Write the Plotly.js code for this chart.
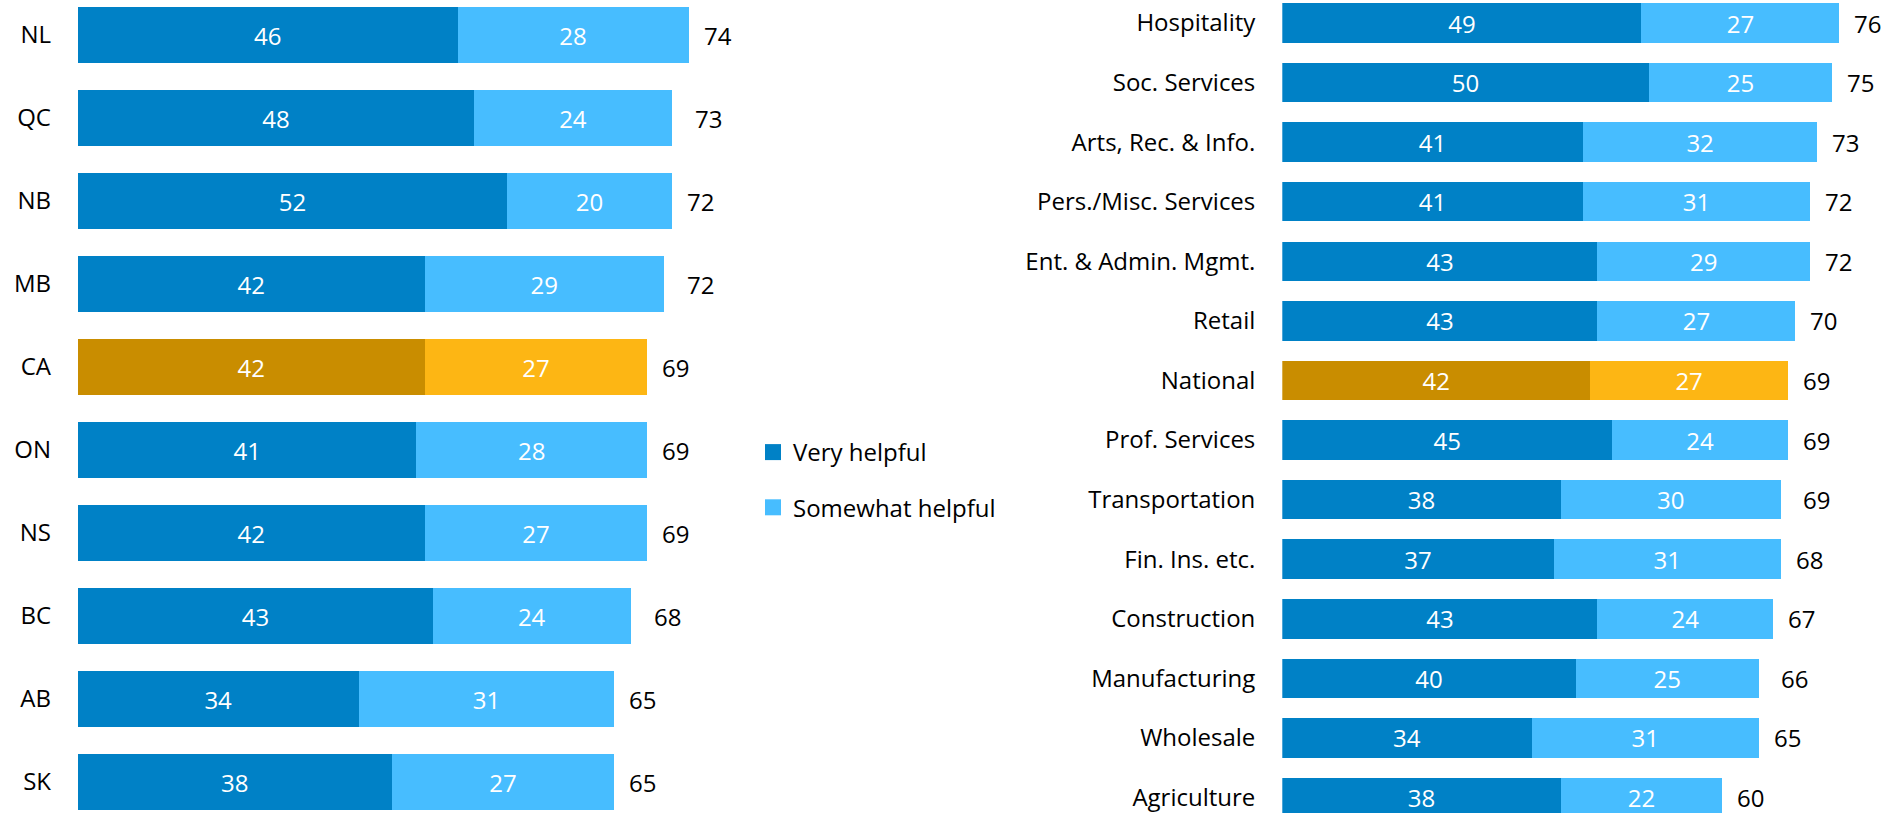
<!DOCTYPE html>
<html>
<head>
<meta charset="utf-8">
<script src="https://cdn.plot.ly/plotly-3.0.1.min.js"></script>
<style>html,body{margin:0;padding:0;background:#fff;}#chart{width:1896px;height:813px;}</style>
</head>
<body>
<div id="chart"></div>
<script>
// Provinces (left panel)
const provinces = ["NL","QC","NB","MB","CA","ON","NS","BC","AB","SK"];
const provVery = [46,48,52,42,42,41,42,43,34,38];
const provSome = [28,24,20,29,27,28,27,24,31,27];
const provTotal = [74,73,72,72,69,69,69,68,65,65];

// Sectors (right panel)
const sectors = ["Hospitality","Soc. Services","Arts, Rec. & Info.","Pers./Misc. Services","Ent. & Admin. Mgmt.","Retail","National","Prof. Services","Transportation","Fin. Ins. etc.","Construction","Manufacturing","Wholesale","Agriculture"];
const secVery = [49,50,41,41,43,43,42,45,38,37,43,40,34,38];
const secSome = [27,25,32,31,29,27,27,24,30,31,24,25,31,22];
const secTotal = [76,75,73,72,72,70,69,69,69,68,67,66,65,60];

const seriesNames = ["Very helpful","Somewhat helpful"];
const highlight = ["CA","National"];

const DARK = "#0081C6", LIGHT = "#47BDFF";
const GOLD_DARK = "#C98D00", GOLD_LIGHT = "#FDB614";
const FONT = "Open Sans, Noto Sans, sans-serif";
const FS = 24;

function colors(cats, base, hi){ return cats.map(c => highlight.includes(c) ? hi : base); }

const traces = [
  {type:"bar", orientation:"h", name:seriesNames[0], y:provinces, x:provVery, text:provVery.map(String),
   marker:{color:colors(provinces,DARK,GOLD_DARK)}, xaxis:"x", yaxis:"y", width:0.675},
  {type:"bar", orientation:"h", name:seriesNames[1], y:provinces, x:provSome, text:provSome.map(String),
   marker:{color:colors(provinces,LIGHT,GOLD_LIGHT)}, xaxis:"x", yaxis:"y", width:0.675},
  {type:"bar", orientation:"h", name:seriesNames[0], y:sectors, x:secVery, text:secVery.map(String),
   marker:{color:colors(sectors,DARK,GOLD_DARK)}, xaxis:"x2", yaxis:"y2", width:0.663},
  {type:"bar", orientation:"h", name:seriesNames[1], y:sectors, x:secSome, text:secSome.map(String),
   marker:{color:colors(sectors,LIGHT,GOLD_LIGHT)}, xaxis:"x2", yaxis:"y2", width:0.663}
];
traces.forEach(t => {
  t.textposition = "inside";
  t.insidetextanchor = "middle";
  t.textfont = {color:"#ffffff", size:FS, family:FONT};
  t.hoverinfo = "skip";
  t.showlegend = false;
});
// legend entries (square swatches)
[DARK, LIGHT].forEach((c,i) => traces.push({type:"scatter", mode:"markers", name:seriesNames[i], x:[null], y:[null],
  xaxis:"x", yaxis:"y", legendgroup:"g"+i, showlegend:true, hoverinfo:"skip",
  marker:{symbol:"square", size:16, color:c}}));

const annotations = [];
provinces.forEach((c,i) => annotations.push({x:provTotal[i], y:c, xref:"x", yref:"y", text:String(provTotal[i]),
  showarrow:false, xanchor:"left", xshift:13, font:{size:FS, color:"#000", family:FONT}}));
sectors.forEach((c,i) => annotations.push({x:secTotal[i], y:c, xref:"x2", yref:"y2", text:String(secTotal[i]),
  showarrow:false, xanchor:"left", xshift:13, font:{size:FS, color:"#000", family:FONT}}));

const W = 1896, H = 813;
const L0 = 78, LS = 8.25, R0 = 1282.3, RS = 7.33;
const layout = {
  width:W, height:H,
  margin:{l:0,r:0,t:0,b:0,pad:0},
  paper_bgcolor:"#fff", plot_bgcolor:"#fff",
  font:{family:FONT, size:FS, color:"#000"},
  barmode:"stack",
  showlegend:true,
  legend:{x:753/W, y:1-480/H, xanchor:"left", yanchor:"middle", tracegroupgap:21,
          font:{size:FS, color:"#000", family:FONT}, bgcolor:"rgba(0,0,0,0)"},
  xaxis:{domain:[L0/W, 760/W], range:[0,(760-L0)/LS], visible:false, fixedrange:true},
  yaxis:{range:[(H-35)/83, -35/83], type:"category", showgrid:false, zeroline:false, showline:false,
         ticks:"", ticklabelstandoff:26, automargin:false, tickfont:{size:FS, color:"#000", family:FONT}},
  xaxis2:{domain:[R0/W, 1], range:[0,(W-R0)/RS], visible:false, fixedrange:true, anchor:"y2"},
  yaxis2:{range:[(H-23)/59.58, -23/59.58], type:"category", anchor:"x2", showgrid:false, zeroline:false, showline:false,
          ticks:"", ticklabelstandoff:26, automargin:false, tickfont:{size:FS, color:"#000", family:FONT}},
  annotations:annotations
};

Plotly.newPlot("chart", traces, layout, {staticPlot:true, displayModeBar:false});
</script>
</body>
</html>
